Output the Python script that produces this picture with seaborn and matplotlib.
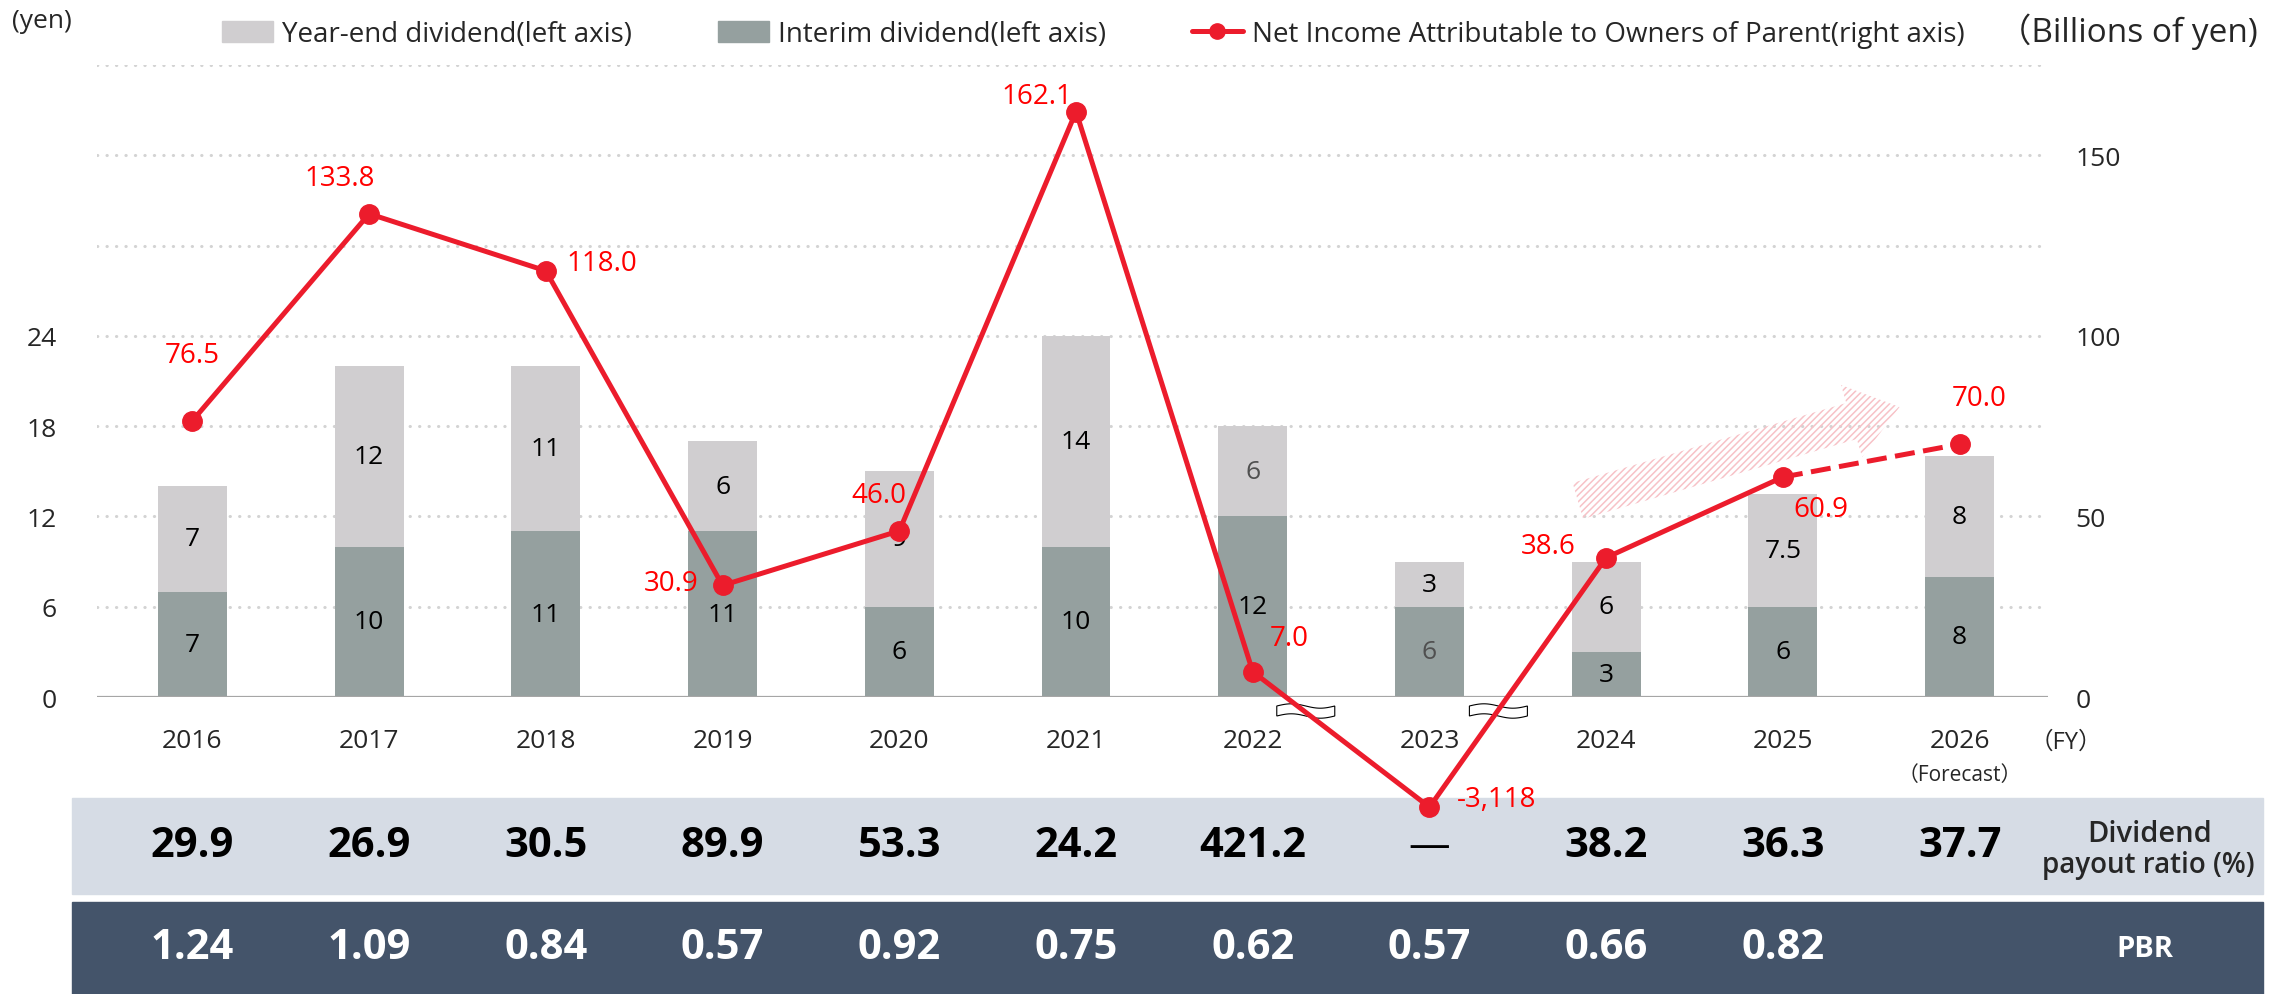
import numpy as np
import pandas as pd
import matplotlib
matplotlib.use("Agg")
import matplotlib.pyplot as plt
import matplotlib.patches as mpatches
import matplotlib.transforms as mtransforms
from matplotlib.lines import Line2D
import seaborn as sns

# ── DATOS ──────────────────────────────────────────────────
years = ["2016", "2017", "2018", "2019", "2020", "2021",
         "2022", "2023", "2024", "2025", "2026"]
interim = [7, 10, 11, 11, 6, 10, 12, 6, 3, 6, 8]
year_end = [7, 12, 11, 6, 9, 14, 6, 3, 6, 7.5, 8]
net_income = [76.5, 133.8, 118.0, 30.9, 46.0, 162.1, 7.0, -3118, 38.6, 60.9, 70.0]
payout = ["29.9", "26.9", "30.5", "89.9", "53.3", "24.2", "421.2", "—",
          "38.2", "36.3", "37.7"]
pbr = ["1.24", "1.09", "0.84", "0.57", "0.92", "0.75", "0.62", "0.57",
       "0.66", "0.82", ""]

# ── ESTILO ─────────────────────────────────────────────────
C_YE = "#D0CED0"
C_IN = "#95A09F"
RED = "#EC1C2C"
RED_TXT = "#FF0000"
BREAK_POS = -30.5          # posición visual del valor negativo (eje cortado)
# desplazamiento de etiquetas de la línea (puntos)
label_off = [(0, 47), (-21, 26), (40, 6), (-37, 2), (-15, 26), (-28, 11),
             (26, 24), (48, 6), (-42, 8), (27, -23), (14, 33)]
muted = {("year_end", 6), ("interim", 7)}

sns.set_theme(style="white")
plt.rcParams["font.family"] = ["Open Sans", "Noto Sans CJK JP", "DejaVu Sans"]
plt.rcParams["hatch.linewidth"] = 1.1

W, H = 2270, 995
fig = plt.figure(figsize=(W / 100, H / 100), dpi=100)
ax = fig.add_axes([97 / W, 297 / H, 1951 / W, 632 / H])

df = pd.DataFrame({"year": years, "interim": interim, "year_end": year_end})
df["total"] = df["interim"] + df["year_end"]

# ── BARRAS APILADAS ────────────────────────────────────────
sns.barplot(data=df, x="year", y="total", color=C_YE, width=0.39,
            saturation=1, errorbar=None, linewidth=0, ax=ax)
sns.barplot(data=df, x="year", y="interim", color=C_IN, width=0.39,
            saturation=1, errorbar=None, linewidth=0, ax=ax)

for i, r in df.iterrows():
    c_in = "#505050" if ("interim", i) in muted else "black"
    c_ye = "#505050" if ("year_end", i) in muted else "black"
    ax.text(i, r["interim"] / 2, f"{r['interim']:g}", ha="center", va="center",
            fontsize=19, color=c_in, zorder=3)
    ax.text(i, r["interim"] + r["year_end"] / 2, f"{r['year_end']:g}",
            ha="center", va="center", fontsize=19, color=c_ye, zorder=3)

ax.set_xlim(-0.54, 10.5)
ax.set_ylim(0, 42)
ax.set_yticks(np.arange(0, 43, 6))
ax.set_yticklabels(["0", "6", "12", "18", "24", "", "", ""])
ax.set_xlabel("")
ax.set_ylabel("")
ax.grid(axis="y", color="#D3D3D3", linestyle=(0, (0.1, 3)), linewidth=2.2,
        dash_capstyle="round")
ax.grid(axis="x", visible=False)
ax.set_axisbelow(True)
ax.axhline(0, color="#A6A6A6", lw=1.6, zorder=1.5)
sns.despine(ax=ax, left=True, bottom=True)
ax.tick_params(axis="y", length=0, pad=29, labelsize=19)
ax.tick_params(axis="x", length=0, pad=22, labelsize=19)

# ── LÍNEA (eje derecho) ────────────────────────────────────
ax2 = ax.twinx()
ax2.set_ylim(0, 175)
ax2.set_yticks([0, 50, 100, 150])
ax2.tick_params(axis="y", length=0, pad=20, labelsize=19)
ax2.grid(False)
for s in ax2.spines.values():
    s.set_visible(False)

x = np.arange(len(years))
y_plot = np.array([v if v >= 0 else BREAK_POS for v in net_income])
ax2.plot(x[:10], y_plot[:10], color=RED, lw=3.6, marker="o", ms=14,
         clip_on=False, zorder=5)
ax2.plot(x[9:], y_plot[9:], color=RED, lw=3.6, ls=(0, (4, 1.7)), marker="o",
         ms=14, markevery=[1], clip_on=False, zorder=5)

for i, v in enumerate(net_income):
    txt = f"{v:,.0f}" if abs(v) >= 1000 else f"{v:.1f}"
    ax2.annotate(txt, (i, y_plot[i]), xytext=label_off[i],
                 textcoords="offset points", ha="center", va="center",
                 fontsize=20, color=RED_TXT, annotation_clip=False, zorder=6)

# flecha de tendencia
arrow = mpatches.FancyArrowPatch(
    posA=(7.84, 54.3), posB=(9.66, 80.3),
    arrowstyle="simple,head_length=36,head_width=54,tail_width=27",
    mutation_scale=1, shrinkA=0, shrinkB=0, transform=ax2.transData,
    facecolor="none", edgecolor="#F7C2C7", lw=0, hatch="/////", zorder=3)
ax2.add_patch(arrow)

# marcas de corte del eje
for xc in [6.3, 7.39]:
    t = np.linspace(-0.29, 0.29, 40)
    top = 0.05 + 0.022 * np.sin(2 * np.pi * t / 0.58 + np.pi) - 0.14
    verts = np.vstack([np.column_stack([t, top]),
                       np.column_stack([t[::-1], top[::-1] - 0.1])])
    trans = fig.dpi_scale_trans + mtransforms.ScaledTranslation(xc, 0, ax2.transData)
    ax2.add_patch(mpatches.Polygon(verts, closed=True, facecolor="white",
                                   edgecolor="black", lw=0.8, transform=trans,
                                   clip_on=False, zorder=4))

# ── TABLA INFERIOR ─────────────────────────────────────────
fig.add_artist(mpatches.Rectangle((72 / W, 100 / H), 2191 / W, 96 / H,
                                  transform=fig.transFigure, color="#D6DCE5",
                                  zorder=-1))
fig.add_artist(mpatches.Rectangle((72 / W, 0), 2191 / W, 92 / H,
                                  transform=fig.transFigure, color="#44546A",
                                  zorder=-1))
blend = mtransforms.blended_transform_factory(ax.transData, fig.transFigure)
for i in range(len(years)):
    w = "normal" if payout[i] == "—" else "bold"
    ax.text(i, 0.149, payout[i], transform=blend, ha="center", va="center",
            fontsize=30, fontweight=w, color="black", clip_on=False)
    ax.text(i, 0.047, pbr[i], transform=blend, ha="center", va="center",
            fontsize=30, fontweight="bold", color="white", clip_on=False)

fig.text(2150 / W, (H - 835) / H, "Dividend", ha="center", va="center",
         fontsize=21, fontweight="semibold", color="#262626")
fig.text(2148 / W, (H - 866) / H, "payout ratio (%)", ha="center", va="center",
         fontsize=20, fontweight="semibold", color="#262626")
fig.text(2145 / W, (H - 950) / H, "PBR", ha="center", va="center",
         fontsize=21, fontweight="bold", color="white")

# ── TEXTOS SUPERIORES Y LEYENDA ───────────────────────────
fig.text(12 / W, 1 - 22 / H, "(yen)", ha="left", va="center", fontsize=19)
fig.text(2258 / W, 1 - 32 / H, "（Billions of yen)", ha="right", va="center",
         fontsize=24)
fig.text(2066 / W, (H - 743) / H, "（FY）", ha="center", va="center", fontsize=17)
ax.text(10, (H - 776) / H, "（Forecast）", transform=blend, ha="center",
        va="center", fontsize=15, clip_on=False)

handles = [mpatches.Patch(color=C_YE), mpatches.Patch(color=C_IN),
           Line2D([], [], color=RED, lw=3.6, marker="o", ms=11)]
labels = ["Year-end dividend(left axis)", "Interim dividend(left axis)",
          "Net Income Attributable to Owners of Parent(right axis)"]
fig.legend(handles, labels, loc="center left", bbox_to_anchor=(222 / W, 1 - 35 / H),
           ncol=3, frameon=False, fontsize=20, handlelength=1.85,
           handleheight=0.8, handletextpad=0.3, columnspacing=3.1,
           borderpad=0, borderaxespad=0)

fig.savefig("out.png", dpi=100)
